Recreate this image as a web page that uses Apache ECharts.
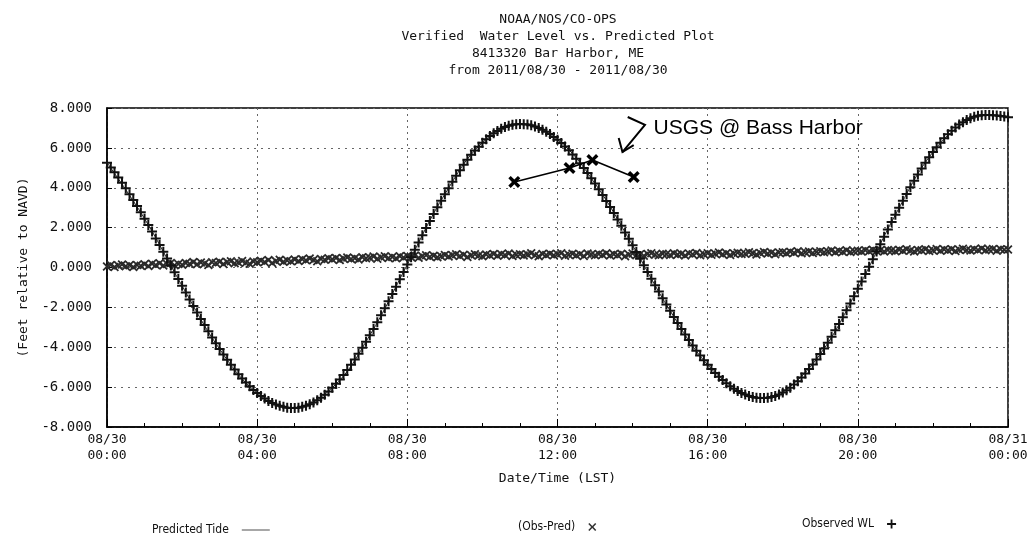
<!DOCTYPE html>
<html>
<head>
<meta charset="utf-8">
<script src="https://cdn.jsdelivr.net/npm/echarts@6/dist/echarts.min.js"></script>
<style>
  html, body { margin: 0; padding: 0; background: #fff; }
  #chart { width: 1034px; height: 542px; }
</style>
</head>
<body>
<div id="chart"></div>
<script>
// Sampling interval of the water level record (6 minutes), in hours since 08/30 00:00
const STEP_HOURS = 0.1;

// Observed water level (ft, NAVD), one value every 6 minutes, 00:00 -> 24:00
const observedWL = [
  5.26, 5.02, 4.78, 4.52, 4.25, 3.97, 3.68, 3.38, 3.08, 2.77,
  2.45, 2.13, 1.80, 1.46, 1.13, 0.79, 0.45, 0.10, -0.24, -0.58,
  -0.92, -1.26, -1.60, -1.93, -2.26, -2.58, -2.89, -3.20, -3.51, -3.80,
  -4.09, -4.36, -4.63, -4.88, -5.12, -5.35, -5.57, -5.77, -5.96, -6.14,
  -6.30, -6.44, -6.57, -6.69, -6.79, -6.87, -6.94, -6.99, -7.03, -7.05,
  -7.05, -7.03, -6.99, -6.94, -6.86, -6.77, -6.66, -6.53, -6.38, -6.22,
  -6.03, -5.83, -5.62, -5.39, -5.14, -4.88, -4.61, -4.33, -4.03, -3.72,
  -3.40, -3.08, -2.74, -2.40, -2.04, -1.69, -1.33, -0.96, -0.59, -0.22,
  0.15, 0.52, 0.89, 1.25, 1.62, 1.98, 2.33, 2.68, 3.02, 3.35,
  3.68, 3.98, 4.30, 4.60, 4.88, 5.15, 5.40, 5.65, 5.87, 6.06,
  6.26, 6.43, 6.59, 6.73, 6.85, 6.96, 7.05, 7.11, 7.16, 7.19,
  7.20, 7.19, 7.17, 7.13, 7.07, 7.00, 6.91, 6.81, 6.69, 6.55,
  6.41, 6.24, 6.07, 5.88, 5.67, 5.46, 5.23, 4.99, 4.74, 4.48,
  4.21, 3.93, 3.64, 3.34, 3.04, 2.73, 2.41, 2.09, 1.76, 1.44,
  1.11, 0.78, 0.44, 0.11, -0.23, -0.56, -0.89, -1.21, -1.54, -1.86,
  -2.17, -2.48, -2.78, -3.08, -3.36, -3.64, -3.91, -4.17, -4.42, -4.65,
  -4.88, -5.09, -5.29, -5.48, -5.64, -5.80, -5.95, -6.08, -6.19, -6.29,
  -6.37, -6.44, -6.49, -6.53, -6.55, -6.55, -6.53, -6.50, -6.44, -6.37,
  -6.27, -6.16, -6.03, -5.87, -5.71, -5.52, -5.32, -5.09, -4.86, -4.61,
  -4.34, -4.06, -3.77, -3.47, -3.15, -2.83, -2.49, -2.15, -1.80, -1.44,
  -1.07, -0.70, -0.33, 0.04, 0.42, 0.80, 1.17, 1.54, 1.91, 2.28,
  2.64, 3.00, 3.35, 3.69, 4.02, 4.35, 4.66, 4.96, 5.25, 5.53,
  5.79, 6.03, 6.26, 6.48, 6.68, 6.86, 7.02, 7.17, 7.29, 7.40,
  7.49, 7.56, 7.61, 7.64, 7.65, 7.65, 7.64, 7.62, 7.60, 7.57,
  7.54
];

// Observed minus predicted (ft), same 6-minute sampling
const obsMinusPred = [
  0.05, 0.12, 0.02, 0.10, 0.15, 0.06, 0.11, 0.03, 0.13, 0.09,
  0.16, 0.08, 0.19, 0.12, 0.21, 0.10, 0.17, 0.22, 0.11, 0.18,
  0.14, 0.23, 0.19, 0.27, 0.16, 0.25, 0.20, 0.13, 0.26, 0.22,
  0.29, 0.18, 0.27, 0.31, 0.21, 0.25, 0.33, 0.24, 0.19, 0.30,
  0.26, 0.34, 0.28, 0.37, 0.23, 0.32, 0.39, 0.29, 0.35, 0.31,
  0.40, 0.33, 0.42, 0.36, 0.45, 0.38, 0.31, 0.43, 0.39, 0.46,
  0.41, 0.48, 0.37, 0.45, 0.50, 0.43, 0.47, 0.40, 0.52, 0.46,
  0.49, 0.55, 0.44, 0.51, 0.57, 0.48, 0.53, 0.46, 0.56, 0.50,
  0.58, 0.52, 0.60, 0.49, 0.56, 0.62, 0.54, 0.59, 0.51, 0.57,
  0.63, 0.55, 0.61, 0.66, 0.58, 0.64, 0.53, 0.62, 0.67, 0.60,
  0.57, 0.65, 0.61, 0.68, 0.59, 0.66, 0.63, 0.70, 0.58, 0.64,
  0.67, 0.60, 0.65, 0.71, 0.62, 0.57, 0.68, 0.63, 0.69, 0.61,
  0.66, 0.72, 0.59, 0.64, 0.69, 0.62, 0.67, 0.58, 0.70, 0.65,
  0.61, 0.68, 0.64, 0.71, 0.60, 0.66, 0.63, 0.69, 0.57, 0.65,
  0.70, 0.62, 0.67, 0.59, 0.68, 0.72, 0.64, 0.61, 0.69, 0.66,
  0.63, 0.71, 0.65, 0.68, 0.60, 0.70, 0.66, 0.73, 0.62, 0.67,
  0.72, 0.64, 0.69, 0.75, 0.66, 0.71, 0.63, 0.70, 0.74, 0.68,
  0.69, 0.76, 0.71, 0.65, 0.73, 0.78, 0.70, 0.74, 0.67, 0.75,
  0.77, 0.71, 0.79, 0.74, 0.81, 0.72, 0.76, 0.80, 0.73, 0.78,
  0.82, 0.76, 0.80, 0.85, 0.77, 0.83, 0.79, 0.86, 0.78, 0.81,
  0.84, 0.80, 0.87, 0.82, 0.89, 0.83, 0.86, 0.80, 0.88, 0.85,
  0.82, 0.89, 0.84, 0.91, 0.85, 0.80, 0.88, 0.86, 0.92, 0.83,
  0.87, 0.93, 0.84, 0.90, 0.86, 0.91, 0.83, 0.89, 0.94, 0.88,
  0.85, 0.92, 0.88, 0.95, 0.86, 0.90, 0.93, 0.84, 0.91, 0.89,
  0.90
];

// Predicted tide (ft): hourly values plus the times of high and low water
const predictedHours = [0, 1, 2, 3, 4, 4.9, 6, 7, 8, 9, 10, 11, 12, 13, 14, 15, 16, 17, 17.5, 18, 19, 20, 21, 22, 23, 23.4, 24];
const predictedTide = [5.26, 2.45, -0.92, -4.09, -6.30, -7.05, -6.03, -3.40, 0.15, 3.68, 6.26, 7.20, 6.41,
                       4.21, 1.11, -2.17, -4.88, -6.37, -6.55, -6.27, -4.34, -1.07, 2.64, 5.79, 7.49, 7.65, 7.54];

// Hand-plotted USGS readings at Bass Harbor
const usgsHours = [10.85, 12.32, 12.93, 14.03];
const usgsLevels = [4.29, 4.99, 5.39, 4.54];

// Axis tick labels
const xTickLabels = ['08/30\n00:00', '08/30\n04:00', '08/30\n08:00', '08/30\n12:00',
                     '08/30\n16:00', '08/30\n20:00', '08/31\n00:00'];

const MONO = '"DejaVu Sans Mono", "Liberation Mono", monospace';
const LEGEND_FONT = '"DejaVu Sans Condensed", "DejaVu Sans Mono", monospace';
const INK = '#111';

const PLUS = 'path://M4,0 L6,0 L6,4 L10,4 L10,6 L6,6 L6,10 L4,10 L4,6 L0,6 L0,4 L4,4 Z';
const CROSS = 'path://M0,1.4 L1.4,0 L5,3.6 L8.6,0 L10,1.4 L6.4,5 L10,8.6 L8.6,10 L5,6.4 L1.4,10 L0,8.6 L3.6,5 Z';
const HEAVY_CROSS = 'path://M0,2 L2,0 L5,3 L8,0 L10,2 L7,5 L10,8 L8,10 L5,7 L2,10 L0,8 L3,5 Z';
const DASH = 'path://M0,0 L30,0 L30,1 L0,1 Z';

const chart = echarts.init(document.getElementById('chart'), null, { renderer: 'canvas' });

const legendBase = {
  orient: 'horizontal',
  align: 'right',
  itemGap: 0,
  textStyle: { fontFamily: LEGEND_FONT, fontSize: 12, color: INK, padding: [0, 8, 0, 0] },
  inactiveColor: '#999'
};

chart.setOption({
  backgroundColor: '#fff',
  animation: false,
  title: {
    text: 'NOAA/NOS/CO-OPS\nVerified  Water Level vs. Predicted Plot\n8413320 Bar Harbor, ME\nfrom 2011/08/30 - 2011/08/30',
    left: 553,
    top: 6,
    textAlign: 'center',
    textStyle: { fontFamily: MONO, fontSize: 13, fontWeight: 'normal', color: INK, lineHeight: 17 }
  },
  legend: [
    Object.assign({}, legendBase, {
      left: 147, top: 519, itemWidth: 28, itemHeight: 2,
      data: [{ name: 'Predicted Tide', icon: DASH, itemStyle: { color: '#444' } }]
    }),
    Object.assign({}, legendBase, {
      left: 513, top: 516, itemWidth: 8, itemHeight: 8,
      data: [{ name: '(Obs-Pred)', icon: CROSS, itemStyle: { color: '#333' } }]
    }),
    Object.assign({}, legendBase, {
      left: 797, top: 513, itemWidth: 9, itemHeight: 9,
      data: [{ name: 'Observed WL', icon: PLUS, itemStyle: { color: INK } }]
    })
  ],
  grid: {
    left: 107, right: 26, top: 108, bottom: 115,
    show: true, borderColor: '#000', borderWidth: 1.5, backgroundColor: 'transparent'
  },
  xAxis: {
    type: 'value',
    min: 0, max: 24, interval: 4,
    name: 'Date/Time (LST)',
    nameLocation: 'middle',
    nameGap: 45,
    nameTextStyle: { fontFamily: MONO, fontSize: 13, color: INK },
    axisLine: { show: true, onZero: false, lineStyle: { color: '#000', width: 1.5 } },
    axisTick: { show: true, inside: true, length: 8, lineStyle: { color: '#000' } },
    minorTick: { show: true, splitNumber: 4, length: 4, lineStyle: { color: '#000' } },
    splitLine: { show: true, lineStyle: { color: '#666', type: [2, 4], width: 1 } },
    axisLabel: {
      fontFamily: MONO, fontSize: 13, color: INK, lineHeight: 16, margin: 5,
      formatter: v => xTickLabels[Math.round(v / 4)]
    }
  },
  yAxis: {
    type: 'value',
    min: -8, max: 8, interval: 2,
    name: '(Feet relative to NAVD)',
    nameLocation: 'middle',
    nameGap: 66,
    nameRotate: 90,
    nameTextStyle: { fontFamily: MONO, fontSize: 13, color: INK },
    axisLine: { show: true, onZero: false, lineStyle: { color: '#000', width: 1.5 } },
    axisTick: { show: true, inside: true, length: 5, lineStyle: { color: '#000' } },
    splitLine: { show: true, lineStyle: { color: '#666', type: [2, 5], width: 1 } },
    axisLabel: {
      fontFamily: MONO, fontSize: 14, color: INK, margin: 15,
      formatter: v => v.toFixed(3)
    }
  },
  series: [
    {
      name: 'Predicted Tide',
      type: 'line',
      data: predictedHours.map((h, i) => [h, predictedTide[i]]),
      smooth: 0.4,
      showSymbol: false,
      lineStyle: { color: '#222', width: 1 },
      itemStyle: { color: '#444' },
      z: 1
    },
    {
      name: '(Obs-Pred)',
      type: 'scatter',
      data: obsMinusPred.map((v, i) => [i * STEP_HOURS, v]),
      symbol: CROSS,
      symbolSize: 9,
      itemStyle: { color: '#2a2a2a', opacity: 1 },
      z: 2
    },
    {
      name: 'Observed WL',
      type: 'scatter',
      data: observedWL.map((v, i) => [i * STEP_HOURS, v]),
      symbol: PLUS,
      symbolSize: 10,
      itemStyle: { color: INK, opacity: 1 },
      z: 3
    },
    {
      name: 'USGS',
      type: 'line',
      data: usgsHours.map((h, i) => [h, usgsLevels[i]]),
      symbol: HEAVY_CROSS,
      symbolSize: 12,
      showSymbol: true,
      lineStyle: { color: '#000', width: 1.6 },
      itemStyle: { color: '#000' },
      z: 4
    }
  ]
});

// Handwritten note and zig-zag arrow, anchored in data units (hours, feet)
const noteAnchor = [14.56, 7.0];
const arrowPath = [[13.87, 7.55], [14.33, 7.15], [13.73, 5.79]];
const arrowHead = [[13.63, 6.49], [13.73, 5.79], [14.03, 6.14]];
const toPx = p => chart.convertToPixel({ gridIndex: 0 }, p);

chart.setOption({
  graphic: [
    {
      type: 'text',
      x: toPx(noteAnchor)[0],
      y: toPx(noteAnchor)[1],
      style: {
        text: 'USGS @ Bass Harbor',
        font: '21px "Liberation Sans", "DejaVu Sans", sans-serif',
        fill: '#000',
        textVerticalAlign: 'middle'
      },
      z: 10
    },
    {
      type: 'polyline',
      shape: { points: arrowPath.map(toPx) },
      style: { stroke: '#000', lineWidth: 2, fill: null },
      z: 10
    },
    {
      type: 'polyline',
      shape: { points: arrowHead.map(toPx) },
      style: { stroke: '#000', lineWidth: 2, fill: null },
      z: 10
    }
  ]
});
</script>
</body>
</html>
